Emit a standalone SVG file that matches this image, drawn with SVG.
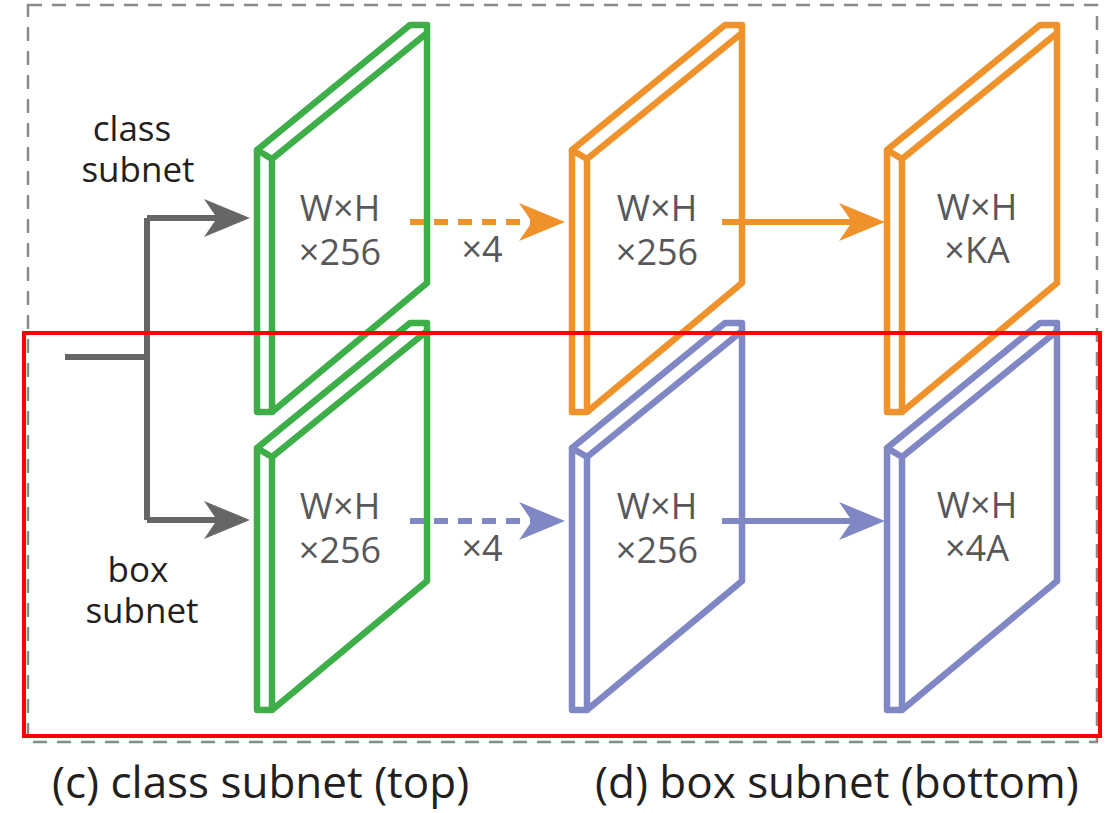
<svg xmlns="http://www.w3.org/2000/svg" width="1112" height="813" viewBox="0 0 1112 813">
<style>
.slab{fill:none;stroke-width:6.5;stroke-linejoin:round;stroke-linecap:round}
.g{stroke:#3dae48}.o{stroke:#f0922b}.b{stroke:#7f87c4}
.lbl{font-family:"Open Sans","Noto Sans",sans-serif;font-size:36px;fill:#58585b;text-anchor:middle}
.side{font-family:"Open Sans","Noto Sans",sans-serif;font-size:35px;fill:#231f20;text-anchor:middle}
.cap{font-family:"Open Sans","Noto Sans",sans-serif;font-size:44px;fill:#231f20}
.ln{fill:none;stroke-width:6}
</style>
<defs>
<marker id="ag" markerUnits="userSpaceOnUse" markerWidth="46" markerHeight="38" viewBox="0 0 46 38" refX="13" refY="19" orient="auto"><path d="M0,0 L46,19 L0,38 L13,19 Z" fill="#666666"/></marker>
<marker id="ao" markerUnits="userSpaceOnUse" markerWidth="46" markerHeight="38" viewBox="0 0 46 38" refX="13" refY="19" orient="auto"><path d="M0,0 L46,19 L0,38 L13,19 Z" fill="#f0922b"/></marker>
<marker id="ab" markerUnits="userSpaceOnUse" markerWidth="46" markerHeight="38" viewBox="0 0 46 38" refX="13" refY="19" orient="auto"><path d="M0,0 L46,19 L0,38 L13,19 Z" fill="#7f87c4"/></marker>
</defs>
<rect x="0" y="0" width="1112" height="813" fill="#ffffff"/>
<rect id="outer-border" x="28" y="5" width="1069" height="737" fill="none" stroke="#8a8a8a" stroke-width="2.5" stroke-dasharray="14 10"/>

<g id="class-label">
<text class="side" x="132" y="141">class</text>
<text class="side" x="138" y="182">subnet</text>
</g>
<g id="box-label">
<text class="side" x="138" y="582">box</text>
<text class="side" x="142" y="623">subnet</text>
</g>

<g id="class-conv1">
<path class="slab g" d="M257,150 L410,25 L427,25 L427,283 L272,412 L257,412 Z M257,150 L272,159 L427,33 M272,159 L272,412"/>
<text class="lbl" x="340" y="221">W×H</text>
<text class="lbl" x="340" y="265">×256</text>
</g>
<g id="class-conv2">
<path class="slab o" d="M572,150 L725,25 L742,25 L742,283 L587,412 L572,412 Z M572,150 L587,159 L742,33 M587,159 L587,412"/>
<text class="lbl" x="657" y="221">W×H</text>
<text class="lbl" x="657" y="265">×256</text>
</g>
<g id="class-out">
<path class="slab o" d="M887,150 L1040,25 L1057,25 L1057,283 L902,412 L887,412 Z M887,150 L902,159 L1057,33 M902,159 L902,412"/>
<text class="lbl" x="977" y="220">W×H</text>
<text class="lbl" x="977" y="263">×KA</text>
</g>
<g id="box-conv1">
<path class="slab g" d="M257,448 L410,323 L427,323 L427,581 L272,710 L257,710 Z M257,448 L272,457 L427,331 M272,457 L272,710"/>
<text class="lbl" x="340" y="519">W×H</text>
<text class="lbl" x="340" y="563">×256</text>
</g>
<g id="box-conv2">
<path class="slab b" d="M572,448 L725,323 L742,323 L742,581 L587,710 L572,710 Z M572,448 L587,457 L742,331 M587,457 L587,710"/>
<text class="lbl" x="657" y="519">W×H</text>
<text class="lbl" x="657" y="563">×256</text>
</g>
<g id="box-out">
<path class="slab b" d="M887,448 L1040,323 L1057,323 L1057,581 L902,710 L887,710 Z M887,448 L902,457 L1057,331 M902,457 L902,710"/>
<text class="lbl" x="977" y="518">W×H</text>
<text class="lbl" x="977" y="561">×4A</text>
</g>

<g id="connectors">
<path class="ln" stroke="#666666" d="M65,357 L147,357 M147,218 L147,520"/>
<path class="ln" stroke="#666666" d="M147,218 L217,218" marker-end="url(#ag)"/>
<path class="ln" stroke="#666666" d="M147,520 L217,520" marker-end="url(#ag)"/>
<path class="ln" stroke="#f0922b" stroke-dasharray="14 10" d="M410,222 L532,222" marker-end="url(#ao)"/>
<text class="lbl" x="482" y="262">×4</text>
<path class="ln" stroke="#f0922b" d="M722,222 L852,222" marker-end="url(#ao)"/>
<path class="ln" stroke="#7f87c4" stroke-dasharray="14 10" d="M410,521 L532,521" marker-end="url(#ab)"/>
<text class="lbl" x="482" y="561">×4</text>
<path class="ln" stroke="#7f87c4" d="M722,521 L852,521" marker-end="url(#ab)"/>
</g>

<rect id="highlight" x="24" y="333" width="1076" height="403" fill="none" stroke="#ff0000" stroke-width="4"/>

<g id="captions">
<text class="cap" x="52" y="798">(c) class subnet (top)</text>
<text class="cap" x="595" y="798">(d) box subnet (bottom)</text>
</g>
</svg>
